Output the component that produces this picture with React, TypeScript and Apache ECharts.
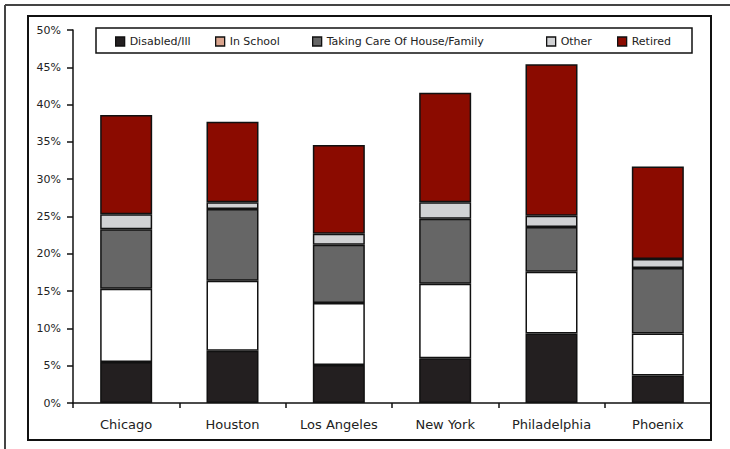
import React, { useEffect, useRef } from "react";
import * as echarts from "echarts";

const categories = ["Chicago", "Houston", "Los Angeles", "New York", "Philadelphia", "Phoenix"];
const disabledIll = [5.5, 7.0, 5.1, 6.0, 9.3, 3.7];
const inSchool = [9.8, 9.4, 8.3, 10.0, 8.3, 5.6];
const takingCare = [8.0, 9.6, 7.8, 8.7, 6.0, 8.8];
const other = [2.0, 0.9, 1.5, 2.2, 1.5, 1.2];
const retired = [13.3, 10.8, 11.9, 14.7, 20.3, 12.4];
const yTicks = { min: 0, max: 50, interval: 5 };

const seriesDefs = [
  { name: "Disabled/Ill", data: disabledIll, color: "#231f20", legendColor: "#231f20", legendLeft: 115 },
  { name: "In School", data: inSchool, color: "#ffffff", legendColor: "#d9a48e", legendLeft: 215 },
  { name: "Taking Care Of House/Family", data: takingCare, color: "#666666", legendColor: "#666666", legendLeft: 312 },
  { name: "Other", data: other, color: "#d1d2d4", legendColor: "#d1d2d4", legendLeft: 546 },
  { name: "Retired", data: retired, color: "#8b0b00", legendColor: "#8b0b00", legendLeft: 617 },
];

const FONT = "DejaVu Sans";

export default function App() {
  const ref = useRef<HTMLDivElement>(null);
  useEffect(() => {
    document.body.style.margin = "0";
    const chart = echarts.init(ref.current!, null, { renderer: "svg" });
    chart.setOption({
      animation: false,
      backgroundColor: "#ffffff",
      textStyle: { fontFamily: FONT },
      grid: { left: 73, right: 19, top: 30, bottom: 46, containLabel: false },
      legend: seriesDefs.map((s) => ({
        left: s.legendLeft,
        top: 36,
        padding: 0,
        icon: "rect",
        itemWidth: 9,
        itemHeight: 9,
        selectedMode: false,
        textStyle: { fontFamily: FONT, fontSize: 11, color: "#222" },
        data: [{ name: s.name, itemStyle: { color: s.legendColor, borderColor: "#111", borderWidth: 1.3 } }],
      })),
      graphic: [
        { type: "line", shape: { x1: 5, y1: 5, x2: 730, y2: 5 }, style: { stroke: "#444", lineWidth: 2 } },
        { type: "line", shape: { x1: 5, y1: 5, x2: 5, y2: 449 }, style: { stroke: "#444", lineWidth: 2 } },
        { type: "rect", shape: { x: 28, y: 16, width: 683, height: 424 }, style: { fill: "none", stroke: "#111", lineWidth: 2 } },
        { type: "rect", shape: { x: 96, y: 28, width: 596, height: 25 }, style: { fill: "#fff", stroke: "#111", lineWidth: 1.5 }, z: -1 },
      ],
      xAxis: {
        type: "category",
        data: categories,
        axisLine: { lineStyle: { color: "#111", width: 1.5 } },
        axisTick: { show: true, length: 5, alignWithLabel: false, interval: 0, lineStyle: { color: "#111", width: 1.5 } },
        axisLabel: { fontFamily: FONT, fontSize: 13, color: "#222", margin: 15, interval: 0 },
      },
      yAxis: {
        type: "value",
        min: yTicks.min,
        max: yTicks.max,
        interval: yTicks.interval,
        axisLine: { show: true, lineStyle: { color: "#111", width: 1.5 } },
        axisTick: { show: true, length: 6, lineStyle: { color: "#111", width: 1.5 } },
        splitLine: { show: false },
        axisLabel: { fontFamily: FONT, fontSize: 11, color: "#222", margin: 12, formatter: "{value}%" },
      },
      series: seriesDefs.map((s) => ({
        name: s.name,
        type: "bar",
        stack: "total",
        barWidth: 52,
        data: s.data,
        itemStyle: { color: s.color, borderColor: "#111", borderWidth: 1.5 },
      })),
    });
    return () => chart.dispose();
  }, []);
  return <div ref={ref} style={{ width: 730, height: 449, position: "absolute", left: 0, top: 0 }} />;
}
